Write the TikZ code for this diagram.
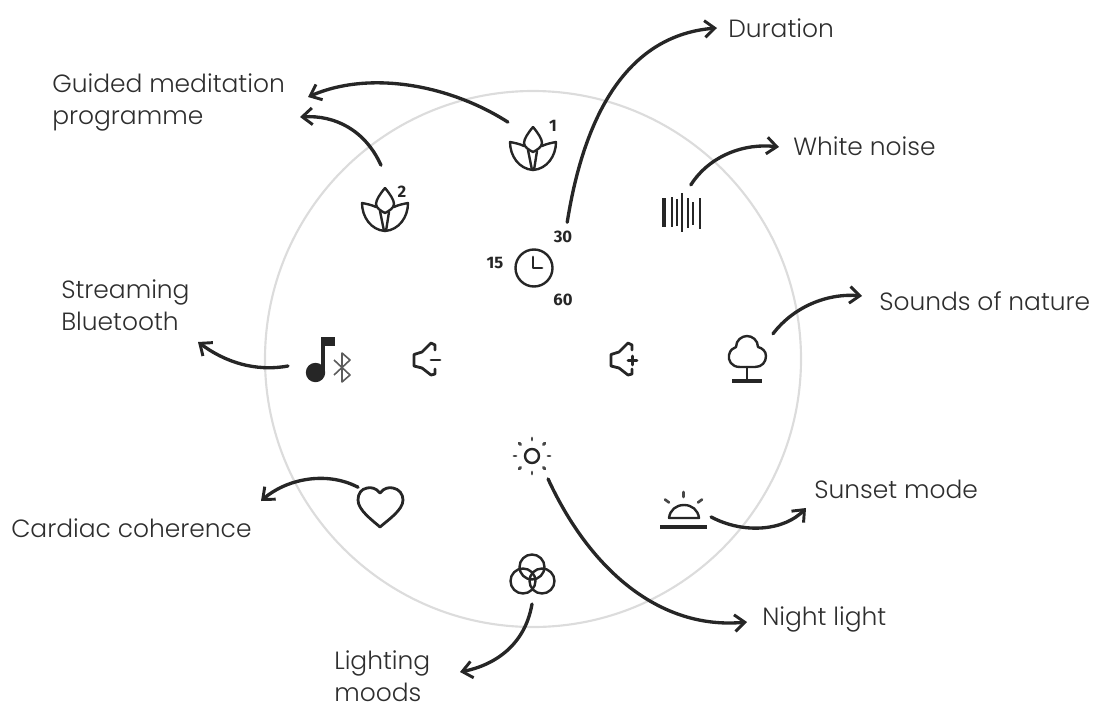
\documentclass[tikz,border=0pt]{standalone}
\usepackage{fontspec}
\setmainfont{Poppins}[UprightFont=* Light]
\newfontfamily\numfont{Fira Sans}
\usetikzlibrary{arrows.meta}
\definecolor{ink}{HTML}{262626}
\definecolor{labelink}{HTML}{2E2E2E}
\definecolor{ringgray}{HTML}{DCDCDC}
\tikzset{
  conn/.style={draw=ink,line width=2.5pt,line cap=round,-{Straight Barb[length=7.5pt,width=12.5pt,line width=2.2pt]}},
  iconline/.style={draw=ink,line width=1.8pt,line cap=round,line join=round},
  hub/.style={circle,inner sep=0pt,outer sep=0pt,minimum size=#1*0.75pt},
  lab/.style={anchor=west,inner sep=0pt,align=left,text=labelink,font=\fontsize{18.7}{24}\selectfont},
  num/.style={inner sep=0pt,text=ink,font=\numfont\bfseries\fontsize{12.5}{14}\selectfont},
  lotus/.pic={
    \draw[iconline] (0,-23) .. controls (-5,-17) and (-9,-11) .. (-9,-7) .. controls (-9,-3) and (-4,0) .. (0,2)
      .. controls (4,0) and (9,-3) .. (9,-7) .. controls (9,-11) and (5,-17) .. (0,-23);
    \draw[iconline] (-9,-4) .. controls (-13,-6) and (-18,-7) .. (-23,-8) .. controls (-23,6) and (-14,19) .. (0,20)
      .. controls (14,19) and (23,6) .. (23,-8) .. controls (18,-7) and (13,-6) .. (9,-4);
    \draw[iconline] (-5,0) -- (-1,20) (4,1) -- (1,20);
  }
}
\begin{document}
\begin{tikzpicture}[x=0.75pt,y=-0.75pt]
\useasboundingbox (0,0) rectangle (1098,717);
\draw[ringgray,line width=1.6pt] (533,359) circle [radius=268];

% icon hubs: their borders pass through the connector start points
\node[hub=75]  (lotusA) at (533,150) {};
\node[hub=92]  (lotusB) at (385,211) {};
\node[hub=113] (clock)  at (534,268) {};
\node[hub=57]  (waves)  at (682,212) {};
\node[hub=71]  (tree)   at (747,358) {};
\node[hub=57]  (sunset) at (683,512) {};
\node[hub=56]  (sun)    at (532,456) {};
\node[hub=54]  (rgb)    at (532,577) {};
\node[hub=59]  (heart)  at (380,507) {};
\node[hub=74]  (music)  at (325,366) {};

% lotus icons
\pic at (lotusA) {lotus};
\pic at (lotusB) {lotus};
\node[num] (one) at (553,126) {1};
\node[num] (two) at (402,192) {2};

% clock
\draw[iconline] (clock) circle [radius=18.5];
\draw[iconline,line width=2.1pt] (533,257) -- (533,268) -- (542,268);
\node[num] (n30) at (563,237) {30};
\node[num] (n15) at (495,263) {15};
\node[num] (n60) at (563,300) {60};

% music + bluetooth
\fill[ink] (315.5,372.5) circle [radius=9.7];
\fill[ink] (321,337) rectangle (335,346);
\draw[ink,line width=3pt] (323,337) -- (323,373);
\draw[ink!75,line width=1.2pt,line join=round] (334,360) -- (350,375) -- (342,382) -- (342,353) -- (350,360) -- (334,375);

% speakers
\draw[iconline,line width=2.1pt] (435,350) -- (435,345) -- (431,343) -- (422,352) -- (414,354.5) -- (414,366) -- (422,368) -- (431,375) -- (435,374) -- (435,369);
\draw[iconline,line width=2.1pt] (431,360) -- (440,360);
\draw[iconline,line width=2.1pt] (632,350) -- (632,345) -- (628,343) -- (619,352) -- (611,354.5) -- (611,366) -- (619,368) -- (628,375) -- (632,374) -- (632,369);
\draw[iconline,line width=1.9pt] (628,360.5) -- (637,360.5) (632.5,356) -- (632.5,365);

% white noise bars
\draw[ink,line width=2.6pt] (664,198) -- (664,227);
\draw[ink,line width=1.2pt] (672,197) -- (672,227);
\draw[ink,line width=1.2pt] (677,199) -- (677,226);
\draw[ink,line width=1.4pt] (682,193) -- (682,232);
\draw[ink,line width=1.4pt] (688,198) -- (688,228);
\draw[ink,line width=1.2pt] (693,202) -- (693,225);
\draw[ink,line width=1.6pt] (700,198) -- (700,229);

% tree
\draw[iconline] (740,367) .. controls (731,367) and (728,360) .. (729,355) .. controls (730,350) and (733,348) .. (736,347)
  .. controls (736,340) and (742,336) .. (747,336) .. controls (752,336) and (758,340) .. (758,347)
  .. controls (762,348) and (766,351) .. (766,356) .. controls (766,362) and (762,367) .. (755,367) -- cycle;
\draw[iconline] (747,367) -- (747,381);
\draw[ink,line width=2.4pt] (732,381) -- (762,381);

% sun
\draw[iconline] (sun) circle [radius=7];
\foreach \a in {0,45,...,315}
  \draw[ink!85,line width=2.2pt,line cap=round] (sun) ++(\a:16) -- ++(\a:2);

% sunset
\draw[iconline] (669,518) .. controls (670,510) and (676,505) .. (684,505) .. controls (692,505) and (698,510) .. (699,518) -- cycle;
\draw[ink,line width=2.4pt] (660,527) -- (707,527);
\draw[ink!85,line width=2pt,line cap=round] (683.5,492) -- (683.5,497) (665,499.5) -- (669,502.5) (702,499.5) -- (698,502.5);

% colour circles
\draw[iconline] (532,567) circle [radius=12.5];
\draw[iconline] (523,581) circle [radius=12.5];
\draw[iconline] (542,581) circle [radius=12.5];

% heart
\draw[iconline,line width=2.1pt] (380,493) .. controls (376,488) and (371,487) .. (367,488) .. controls (361,489) and (358,494) .. (358,500)
  .. controls (358,510) and (372,520) .. (380,527) .. controls (388,520) and (403,510) .. (403,500)
  .. controls (403,494) and (399,489) .. (393,488) .. controls (389,487) and (384,488) .. (380,493) -- cycle;

% labels
\node[lab] (duration) at (728,28) {Duration};
\node[lab] (guided) at (52,102) {Guided meditation\\programme};
\node[lab] (noise) at (793,146) {White noise};
\node[lab] (stream) at (61,305) {Streaming\\Bluetooth};
\node[lab] (nature) at (879,301) {Sounds of nature};
\node[lab] (sunsetmode) at (814,489) {Sunset mode};
\node[lab] (cardiac) at (11,528) {Cardiac coherence};
\node[lab] (night) at (762,619) {Night light};
\node[lab] (moods) at (334,676) {Lighting\\moods};

% connector arrow ends
\coordinate (toGuidedA) at (308,97);
\coordinate (toGuidedB) at (300,117);
\coordinate (toDuration) at (717,28);
\coordinate (toNoise) at (779,147);
\coordinate (toNature) at (862,296);
\coordinate (toSunset) at (806,508);
\coordinate (toNight) at (747,622);
\coordinate (toMoods) at (460,672);
\coordinate (toCardiac) at (261,501);
\coordinate (toStream) at (198,342);

% connectors
\draw[conn] (lotusA.132) .. controls (450,85) and (370,70) .. (toGuidedA);
\draw[conn] (lotusB.95) .. controls (365,130) and (335,115) .. (toGuidedB);
\draw[conn] (clock.54) .. controls (585,110) and (630,35) .. (toDuration);
\draw[conn] (waves.72) .. controls (710,155) and (745,143) .. (toNoise);
\draw[conn] (tree.43) .. controls (795,305) and (830,293) .. (toNature);
\draw[conn] (sunset.-10) .. controls (745,535) and (785,530) .. (toSunset);
\draw[conn] (sun.-55) .. controls (590,570) and (660,630) .. (toNight);
\draw[conn] (rgb.-90) .. controls (525,645) and (495,665) .. (toMoods);
\draw[conn] (heart.138) .. controls (325,470) and (285,480) .. (toCardiac);
\draw[conn] (music.180) .. controls (255,372) and (225,362) .. (toStream);
\end{tikzpicture}
\end{document}
